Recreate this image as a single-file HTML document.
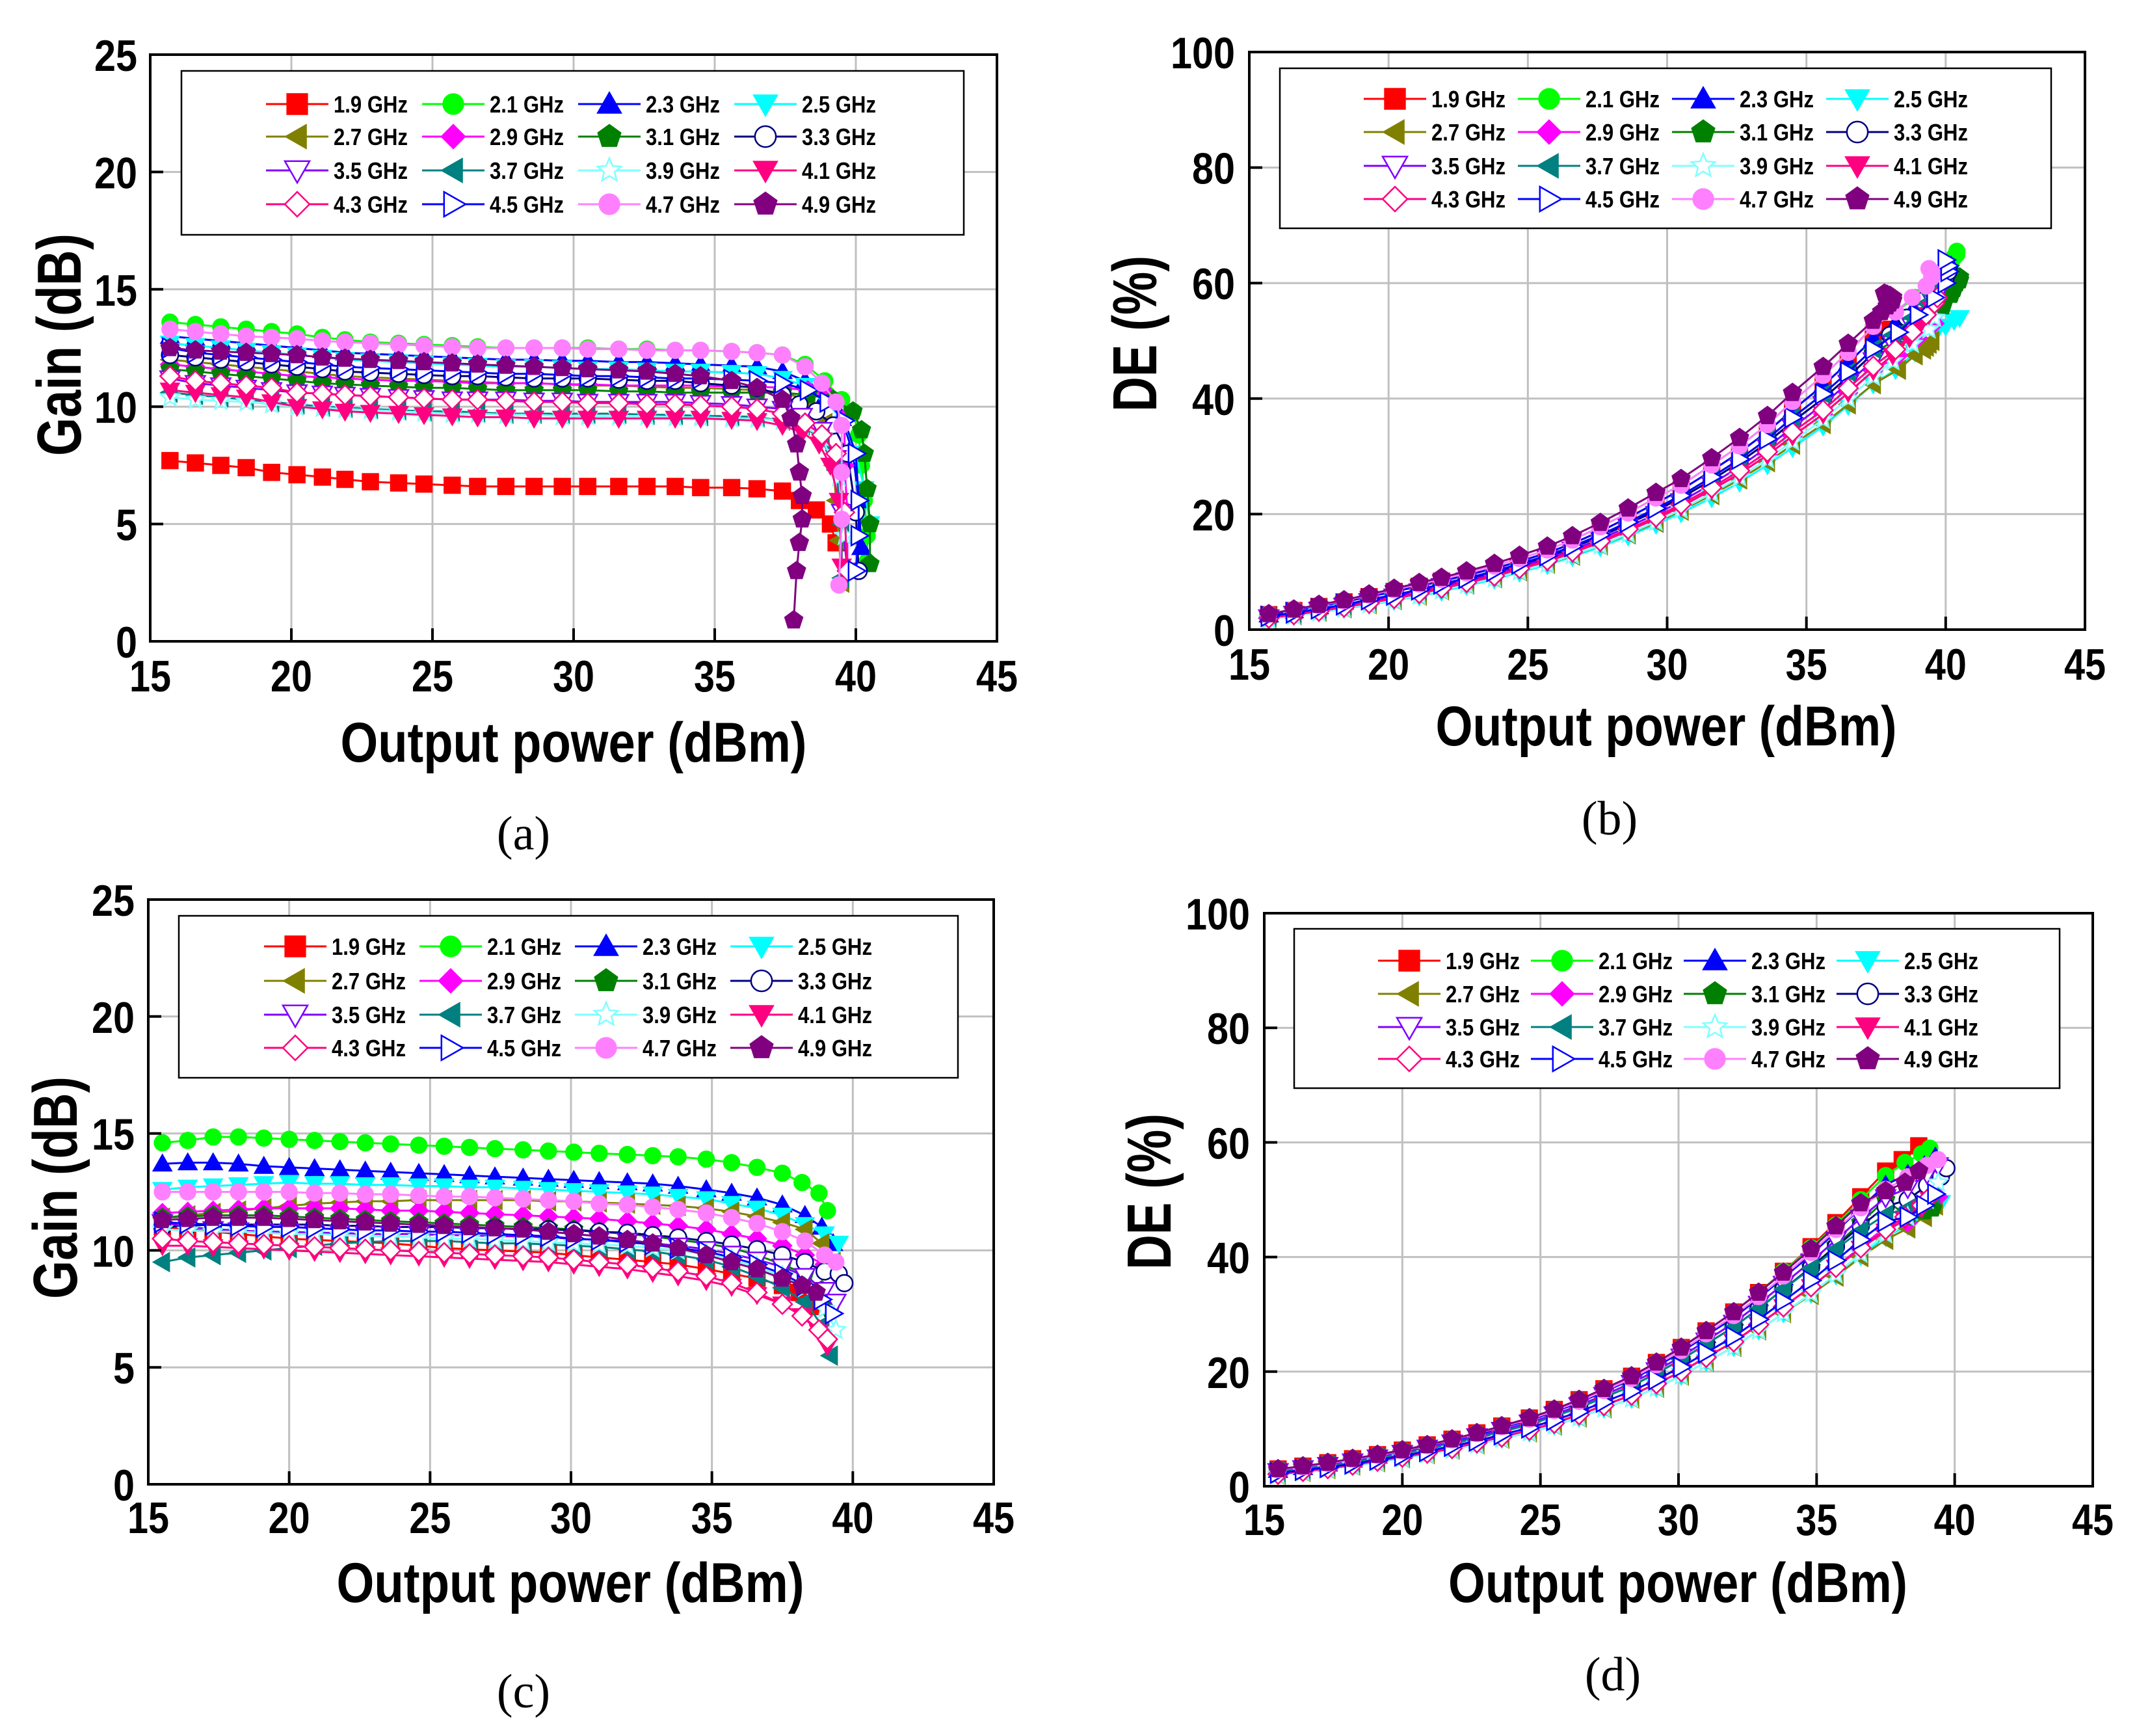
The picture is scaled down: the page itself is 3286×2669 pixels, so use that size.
<!DOCTYPE html>
<html><head><meta charset="utf-8"><title>PA Gain and DE vs Output Power</title>
<style>html,body{margin:0;padding:0;background:#fff}svg{display:block}</style></head>
<body>
<svg id="fig" xmlns="http://www.w3.org/2000/svg" width="3286" height="2669" viewBox="0 0 3286 2669">
<rect x="0" y="0" width="3286" height="2669" fill="#fff"/>
</svg>
<script>
// ===== data =====
const seriesNames = ['1.9 GHz','2.1 GHz','2.3 GHz','2.5 GHz','2.7 GHz','2.9 GHz','3.1 GHz','3.3 GHz','3.5 GHz','3.7 GHz','3.9 GHz','4.1 GHz','4.3 GHz','4.5 GHz','4.7 GHz','4.9 GHz'];
const xTicks = [15,20,25,30,35,40,45];
const gainTicks = [0,5,10,15,20,25];
const deTicks = [0,20,40,60,80,100];

// panel (a) gain
const xBaseA = [15.7,16.6,17.5,18.4,19.3,20.2,21.1,21.9,22.8,23.8,24.7,25.7,26.6,27.6,28.6,29.6,30.5,31.6,32.6,33.6,34.5,35.6,36.5,37.4];
const gainA = [
[7.7,7.6,7.5,7.4,7.2,7.1,7.0,6.9,6.8,6.75,6.7,6.65,6.6,6.6,6.6,6.6,6.6,6.6,6.6,6.6,6.55,6.55,6.5,6.4],
[13.6,13.5,13.4,13.3,13.2,13.1,12.95,12.85,12.75,12.7,12.65,12.6,12.55,12.5,12.5,12.5,12.5,12.45,12.45,12.4,12.4,12.35,12.3,12.2],
[13.0,12.9,12.8,12.7,12.6,12.5,12.4,12.3,12.25,12.2,12.15,12.1,12.05,12.0,12.0,11.95,11.95,11.9,11.9,11.85,11.8,11.75,11.7,11.5],
[12.7,12.6,12.5,12.4,12.3,12.2,12.1,12.0,11.95,11.9,11.85,11.8,11.75,11.7,11.7,11.65,11.6,11.6,11.55,11.5,11.5,11.45,11.4,11.2],
[12.0,11.9,11.8,11.7,11.6,11.5,11.4,11.3,11.25,11.2,11.15,11.1,11.05,11.0,11.0,10.95,10.9,10.9,10.85,10.8,10.8,10.75,10.7,10.6],
[11.8,11.7,11.6,11.5,11.4,11.3,11.25,11.2,11.15,11.1,11.1,11.05,11.0,11.0,11.0,10.95,10.95,10.9,10.9,10.9,10.9,10.85,10.85,10.8],
[11.6,11.5,11.4,11.3,11.2,11.1,11.0,10.95,10.9,10.85,10.8,10.8,10.75,10.7,10.7,10.7,10.7,10.65,10.65,10.6,10.6,10.6,10.6,10.6],
[12.2,12.1,12.0,11.9,11.8,11.7,11.6,11.5,11.45,11.4,11.35,11.3,11.3,11.25,11.2,11.2,11.2,11.15,11.1,11.1,11.0,10.9,10.8,10.5],
[11.2,11.0,10.9,10.8,10.7,10.6,10.55,10.5,10.45,10.4,10.35,10.3,10.3,10.3,10.25,10.25,10.2,10.2,10.2,10.2,10.15,10.1,10.0,9.9],
[10.6,10.5,10.4,10.3,10.2,10.1,10.0,9.95,9.9,9.85,9.8,9.8,9.75,9.7,9.7,9.7,9.7,9.7,9.65,9.65,9.6,9.6,9.55,9.4],
[10.4,10.3,10.25,10.2,10.1,10.0,9.95,9.9,9.85,9.8,9.75,9.7,9.7,9.65,9.65,9.6,9.6,9.6,9.6,9.55,9.55,9.5,9.5,9.4],
[10.7,10.6,10.5,10.4,10.2,10.0,9.9,9.8,9.75,9.7,9.65,9.6,9.55,9.55,9.5,9.5,9.5,9.5,9.5,9.5,9.5,9.45,9.4,9.2],
[11.3,11.1,11.0,10.9,10.8,10.6,10.55,10.5,10.45,10.4,10.35,10.3,10.3,10.25,10.2,10.2,10.15,10.15,10.1,10.1,10.05,10.0,9.9,9.7],
[12.5,12.3,12.2,12.1,12.0,11.9,11.8,11.7,11.65,11.6,11.55,11.5,11.45,11.4,11.4,11.35,11.3,11.3,11.25,11.2,11.2,11.15,11.1,11.0],
[13.3,13.2,13.1,13.0,12.95,12.9,12.8,12.75,12.7,12.65,12.6,12.55,12.5,12.5,12.5,12.5,12.45,12.45,12.4,12.4,12.4,12.35,12.3,12.2],
[12.5,12.4,12.35,12.3,12.25,12.2,12.1,12.05,12.0,11.95,11.9,11.85,11.8,11.75,11.7,11.65,11.6,11.55,11.5,11.4,11.3,11.1,10.8,10.3]];
const tailXA = [
[38.0,38.6,39.1,39.3],
[38.2,38.9,39.5,39.9,40.1,40.2,40.3,40.4,40.4],
[38.2,38.9,39.5,39.9,40.1,40.2],
[38.2,38.9,39.6,40.0,40.3,40.5],
[38.3,38.9,39.2,39.3,39.4,39.5],
[38.3,39.0,39.6,39.6,39.7,39.7],
[38.3,39.2,39.9,40.2,40.3,40.4,40.5,40.5],
[38.0,38.6,39.2,39.7,40.0,40.1],
[38.1,38.8,39.3,39.5,39.7],
[38.1,38.8,39.3,39.5,39.5],
[38.1,38.8,39.4,39.6],
[38.1,38.7,39.1,39.4,39.5],
[38.2,38.8,39.3,39.6,39.7],
[38.3,39.0,39.6,40.0,40.1,40.1,40.0],
[38.2,38.8,39.3,39.5,39.5,39.5,39.4],
[37.7,37.9,38.0,38.1,38.1,38.0,37.9,37.8]];
const tailGainA = [
[6.0,5.6,5.0,4.2],
[11.8,11.1,10.3,9.8,8.8,7.5,6.0,4.5,3.4],
[11.1,10.4,9.5,8.0,6.0,4.0],
[10.9,10.3,9.3,8.0,6.5,5.0],
[10.3,9.3,7.5,6.0,4.3,2.5],
[10.7,10.5,9.5,7.5,5.5,3.0],
[10.5,10.3,9.8,9.0,8.0,6.5,5.0,3.3],
[10.1,9.8,9.2,8.0,5.5,3.0],
[9.6,9.0,7.8,5.5,3.0],
[9.2,8.6,7.3,5.0,2.7],
[9.2,8.7,7.0,4.5],
[8.9,8.4,7.5,6.0,3.2],
[9.3,8.8,8.0,5.5,3.0],
[10.7,10.2,9.4,8.0,6.0,4.5,3.0],
[11.7,11.0,10.2,9.2,7.2,5.2,2.4],
[9.5,8.4,7.2,6.2,5.2,4.2,3.0,0.9]];

// panel (b) drain efficiency (same Pout points as panel a)
const deB = [
[2.6,3.3,4.0,4.8,5.7,6.6,7.5,8.4,9.4,10.6,11.8,13.3,14.9,17.0,19.4,21.9,24.2,27.5,30.7,34.3,38.0,42.3,46.2,50.3],
[2.7,3.5,4.2,5.0,6.0,6.9,7.9,8.7,9.8,11.0,12.3,13.8,15.5,17.8,20.2,22.8,25.0,28.5,31.8,35.5,39.5,44.0,48.0,52.5],
[2.6,3.3,4.0,4.8,5.7,6.6,7.5,8.4,9.4,10.6,11.8,13.3,14.9,17.0,19.4,21.9,24.2,27.5,30.7,34.3,38.0,42.3,46.2,50.3],
[1.8,2.4,3.0,3.6,4.3,5.0,5.8,6.6,7.6,8.7,9.9,11.2,12.6,14.3,16.2,18.2,20.2,22.8,25.5,28.5,31.5,35.2,38.8,42.5],
[1.9,2.5,3.1,3.7,4.4,5.1,5.9,6.8,7.8,8.9,10.1,11.4,12.8,14.6,16.5,18.5,20.6,23.3,26.0,29.0,32.0,35.6,39.0,42.5],
[2.0,2.6,3.2,3.9,4.6,5.4,6.2,7.1,8.1,9.2,10.5,11.8,13.3,15.1,17.1,19.2,21.3,24.2,27.0,30.2,33.5,37.3,41.0,44.8],
[2.2,2.8,3.5,4.2,5.0,5.9,6.8,7.7,8.7,9.9,11.2,12.6,14.2,16.1,18.3,20.6,22.8,25.9,29.0,32.4,36.0,40.0,43.8,47.8],
[2.2,2.8,3.5,4.2,5.0,5.9,6.8,7.7,8.7,9.9,11.2,12.6,14.2,16.1,18.3,20.6,22.8,25.9,29.0,32.4,36.0,40.0,43.8,47.8],
[2.1,2.7,3.4,4.1,4.9,5.7,6.6,7.5,8.5,9.6,10.9,12.3,13.8,15.7,17.8,20.0,22.2,25.2,28.2,31.6,35.0,39.0,42.7,46.6],
[2.3,2.9,3.6,4.3,5.2,6.0,6.9,7.9,8.9,10.1,11.4,12.8,14.4,16.4,18.6,21.0,23.2,26.4,29.5,33.0,36.7,40.8,44.6,48.6],
[1.8,2.4,3.0,3.7,4.4,5.1,5.9,6.8,7.8,8.9,10.1,11.4,12.9,14.6,16.6,18.7,20.8,23.6,26.4,29.5,32.6,36.4,40.0,43.8],
[2.0,2.6,3.2,3.9,4.6,5.4,6.2,7.1,8.1,9.2,10.5,11.8,13.3,15.1,17.1,19.2,21.3,24.2,27.0,30.2,33.5,37.3,41.0,44.8],
[2.0,2.6,3.2,3.9,4.6,5.4,6.3,7.2,8.2,9.3,10.6,12.0,13.5,15.3,17.4,19.5,21.7,24.6,27.5,30.8,34.2,38.0,41.8,45.6],
[2.3,2.9,3.6,4.3,5.2,6.0,6.9,7.9,8.9,10.1,11.4,12.8,14.4,16.4,18.6,21.0,23.2,26.4,29.5,33.0,36.7,40.8,44.6,48.6],
[2.7,3.5,4.2,5.0,6.0,6.9,7.9,8.7,9.8,11.0,12.3,13.8,15.5,17.8,20.2,22.8,25.0,28.5,31.8,35.5,39.5,44.0,48.0,52.5],
[2.7,3.5,4.3,5.1,6.1,7.1,8.1,9.0,10.1,11.4,12.8,14.4,16.2,18.5,21.0,23.7,26.1,29.7,33.2,37.0,41.0,45.5,49.5,53.5]];
const tailDeB = [
[52,53,54,55],
[55,57.5,60,61.5,62.5,63.5,64.5,65,65.5],
[53,56,59,61,62,63],
[45,48,51,52.5,53.5,54],
[45,47.5,48.5,49,49.5,50],
[47.5,50.5,53,54.5,55.5,56],
[50.5,53.5,56,58,59,60,60.5,61],
[51,54,57,60,61,62],
[49.5,52.5,55,57,58],
[51,54,56.5,58,59],
[46.5,49.5,52,54],
[47.5,50.5,53,54.5,55.5],
[48.5,51.5,54.5,56.5,57.5],
[51.5,54.5,57.5,60,62,63,64],
[55,57.5,59.5,61,61.5,62,62.5],
[55,56,56.5,57,57.5,57.8,58,58.2]];

// panel (c) gain
const xBaseC = [15.5,16.4,17.3,18.2,19.1,20.0,20.9,21.8,22.7,23.6,24.6,25.5,26.4,27.3,28.3,29.2,30.1,31.0,32.0,32.9,33.8,34.8,35.7,36.6,37.5];
const gainC = [
[11.0,10.9,10.8,10.7,10.6,10.5,10.45,10.4,10.35,10.3,10.2,10.1,10.05,10.0,9.95,9.9,9.8,9.7,9.6,9.5,9.4,9.2,9.0,8.8,8.5],
[14.6,14.7,14.85,14.85,14.8,14.75,14.7,14.65,14.6,14.55,14.5,14.45,14.4,14.35,14.3,14.25,14.2,14.15,14.1,14.05,14.0,13.9,13.75,13.55,13.3],
[13.7,13.75,13.75,13.7,13.6,13.55,13.5,13.45,13.4,13.35,13.3,13.25,13.2,13.15,13.1,13.05,13.0,12.95,12.9,12.85,12.75,12.6,12.45,12.25,11.95],
[12.6,12.7,12.75,12.8,12.85,12.9,12.85,12.85,12.8,12.8,12.75,12.75,12.7,12.7,12.65,12.6,12.55,12.5,12.45,12.4,12.3,12.2,12.0,11.8,11.5],
[11.4,11.5,11.6,11.7,11.8,11.9,12.0,12.05,12.1,12.1,12.15,12.15,12.15,12.15,12.15,12.1,12.1,12.05,12.0,11.95,11.9,11.8,11.65,11.45,11.2],
[11.6,11.65,11.7,11.75,11.8,11.8,11.8,11.8,11.75,11.7,11.7,11.65,11.6,11.55,11.5,11.45,11.4,11.35,11.25,11.15,11.05,10.9,10.7,10.5,10.2],
[11.4,11.45,11.5,11.5,11.5,11.45,11.4,11.35,11.3,11.25,11.2,11.15,11.1,11.05,11.0,10.95,10.9,10.8,10.7,10.6,10.45,10.3,10.1,9.8,9.4],
[11.0,11.05,11.1,11.1,11.1,11.1,11.1,11.05,11.05,11.0,11.0,11.0,10.95,10.95,10.9,10.9,10.85,10.8,10.75,10.65,10.55,10.4,10.25,10.05,9.8],
[11.2,11.0,10.9,10.85,10.8,10.8,10.75,10.75,10.7,10.7,10.7,10.65,10.65,10.6,10.6,10.55,10.5,10.45,10.4,10.3,10.2,10.05,9.85,9.6,9.3],
[9.5,9.7,9.8,9.9,10.0,10.1,10.2,10.3,10.35,10.4,10.4,10.4,10.35,10.3,10.3,10.25,10.2,10.15,10.05,9.95,9.8,9.6,9.3,8.9,8.4],
[10.9,10.85,10.8,10.8,10.75,10.7,10.7,10.65,10.6,10.6,10.55,10.5,10.5,10.45,10.4,10.35,10.3,10.25,10.2,10.1,10.0,9.85,9.6,9.3,8.9],
[10.2,10.2,10.15,10.1,10.05,10.0,9.95,9.9,9.85,9.8,9.75,9.7,9.65,9.6,9.55,9.5,9.4,9.3,9.2,9.05,8.9,8.7,8.45,8.1,7.7],
[10.5,10.4,10.35,10.3,10.25,10.2,10.15,10.1,10.05,10.0,9.95,9.9,9.85,9.8,9.75,9.7,9.6,9.5,9.4,9.25,9.1,8.9,8.6,8.2,7.7],
[11.2,11.15,11.1,11.05,11.0,11.0,10.95,10.9,10.85,10.85,10.8,10.8,10.75,10.7,10.65,10.6,10.5,10.45,10.35,10.25,10.1,9.95,9.7,9.4,9.0],
[12.5,12.5,12.5,12.5,12.5,12.5,12.45,12.45,12.4,12.4,12.35,12.3,12.3,12.25,12.2,12.15,12.1,12.0,11.95,11.85,11.75,11.6,11.4,11.15,10.8],
[11.3,11.35,11.4,11.4,11.4,11.35,11.3,11.25,11.2,11.15,11.1,11.05,11.0,10.95,10.9,10.8,10.7,10.6,10.45,10.3,10.1,9.8,9.5,9.2,8.8]];
const tailXC = [
[38.1,38.7],[38.2,38.8,39.1],[38.3,38.9,39.3],[38.3,39.0,39.5],[38.3,38.9,39.3],[38.3,39.0,39.4],
[38.3,38.9,39.2],[38.3,39.0,39.5,39.7],[38.3,39.0,39.4],[38.3,38.9,39.2],[38.3,39.0,39.4],[38.2,38.8,39.1],
[38.2,38.8,39.1],[38.3,38.9,39.3],[38.3,39.0,39.4],[38.2,38.7]];
const tailGainC = [
[8.2,7.6],[12.9,12.45,11.7],[11.5,11.0,10.3],[11.1,10.7,10.3],[10.9,10.3,9.5],[9.8,9.4,9.0],
[9.0,8.3,7.5],[9.5,9.1,9.0,8.6],[8.9,8.3,7.8],[7.8,6.8,5.5],[8.4,7.5,6.6],[7.2,6.5,5.9],
[7.2,6.6,6.2],[8.5,7.9,7.3],[10.4,9.8,9.5],[8.5,8.2]];

// panel (d) drain efficiency (same Pout points as panel c)
const deD = [
[3.0,3.5,4.1,4.8,5.5,6.3,7.2,8.2,9.3,10.5,11.9,13.4,15.1,17.0,19.2,21.6,24.2,27.1,30.4,33.8,37.5,41.8,46.0,50.5,55.0],
[3.0,3.5,4.1,4.8,5.5,6.3,7.2,8.2,9.3,10.5,11.9,13.4,15.1,17.0,19.2,21.6,24.2,27.1,30.4,33.8,37.5,41.6,45.6,50.0,54.2],
[2.8,3.3,3.9,4.6,5.3,6.1,7.0,8.0,9.0,10.2,11.5,13.0,14.6,16.5,18.6,20.9,23.4,26.3,29.4,32.8,36.4,40.4,44.4,48.6,52.6],
[2.0,2.5,3.0,3.6,4.2,4.9,5.6,6.4,7.3,8.3,9.4,10.6,12.0,13.6,15.3,17.2,19.3,21.7,24.3,27.2,30.2,33.6,36.8,40.2,43.5],
[2.0,2.5,3.0,3.6,4.2,4.9,5.6,6.4,7.3,8.3,9.4,10.6,12.0,13.6,15.3,17.2,19.3,21.7,24.3,27.2,30.2,33.4,36.6,40.0,43.0],
[2.1,2.6,3.1,3.7,4.4,5.1,5.8,6.6,7.6,8.6,9.8,11.0,12.5,14.1,15.9,17.9,20.0,22.5,25.2,28.2,31.3,34.8,38.2,41.8,45.2],
[2.5,3.0,3.6,4.2,4.9,5.7,6.5,7.4,8.4,9.5,10.8,12.2,13.7,15.5,17.5,19.7,22.1,24.8,27.8,31.0,34.4,38.2,42.0,46.0,50.0],
[2.5,3.0,3.6,4.2,4.9,5.7,6.5,7.4,8.4,9.5,10.8,12.2,13.7,15.5,17.5,19.7,22.1,24.8,27.8,31.0,34.4,38.2,41.8,45.4,48.8],
[2.6,3.1,3.7,4.3,5.0,5.8,6.7,7.6,8.7,9.8,11.1,12.5,14.1,15.9,18.0,20.2,22.6,25.4,28.5,31.8,35.3,39.2,43.0,46.8,50.4],
[2.5,3.0,3.6,4.2,4.9,5.7,6.5,7.4,8.4,9.5,10.8,12.2,13.7,15.5,17.5,19.7,22.1,24.8,27.8,31.0,34.4,38.0,41.4,44.6,47.4],
[2.0,2.5,3.0,3.6,4.2,4.9,5.6,6.4,7.3,8.3,9.4,10.6,12.0,13.6,15.3,17.2,19.3,21.7,24.3,27.2,30.2,33.6,37.0,40.6,44.0],
[2.1,2.6,3.1,3.7,4.4,5.1,5.8,6.6,7.6,8.6,9.8,11.0,12.5,14.1,15.9,17.9,20.0,22.5,25.2,28.2,31.3,34.8,38.2,41.5,44.5],
[2.1,2.6,3.1,3.7,4.4,5.1,5.8,6.6,7.6,8.6,9.8,11.0,12.5,14.1,15.9,17.9,20.0,22.5,25.2,28.2,31.3,34.8,38.2,41.6,44.8],
[2.3,2.8,3.3,3.9,4.6,5.3,6.1,7.0,7.9,9.0,10.2,11.5,13.0,14.7,16.6,18.6,20.8,23.3,26.1,29.1,32.3,35.9,39.4,43.0,46.2],
[2.9,3.4,4.0,4.7,5.4,6.2,7.1,8.1,9.2,10.4,11.7,13.2,14.8,16.7,18.8,21.2,23.7,26.6,29.8,33.1,36.7,40.8,44.8,48.6,51.8],
[3.0,3.5,4.1,4.8,5.5,6.3,7.2,8.2,9.3,10.5,11.9,13.4,15.1,17.0,19.2,21.6,24.2,27.1,30.4,33.8,37.3,41.4,45.4,49.4,51.5]];
const tailDeD = [
[57.0,59.4],[56.5,58,59],[54.5,56,57.5],[45.5,47.5,49.5],[45,47,49],[46,48.5,50.5],
[47,48,48.5],[50,52.5,54,55.5],[52,54.5,56],[48.5,50,51],[47,50,53],[46.5,48.5,50],
[47,49,50.5],[47,49,51],[54,56,57],[53,55]];

// ===== styles (not data) =====
const colors = ['#ff0000','#00ff00','#0000ff','#00ffff','#808000','#ff00ff','#008000','#000080','#8000ff','#008080','#80ffff','#ff0080','#ff0080','#0000ff','#ff80ff','#800080'];
const shapes = ['square','circle','up','down','left','diamond','pent','circle','down','left','star','down','diamond','right','circle','pent'];
const openMk = [false,false,false,false,false,false,false,true,true,false,true,false,true,true,false,false];

const NS = 'http://www.w3.org/2000/svg';
const svg = document.getElementById('fig');
function mk(tag, attrs, parent){ const e=document.createElementNS(NS,tag); for(const k in attrs) e.setAttribute(k,attrs[k]); (parent||svg).appendChild(e); return e; }
function txt(str, x, y, size, len, parent, opts){
  opts = opts||{};
  const t = mk('text', {x:x, y:y, 'font-size':size, 'font-family':opts.serif?'"Liberation Serif", serif':'"Liberation Sans", sans-serif', 'font-weight':opts.serif?'normal':'bold', 'text-anchor':opts.anchor||'middle', fill:'#000'}, parent);
  if(len){ t.setAttribute('textLength', len); t.setAttribute('lengthAdjust','spacingAndGlyphs'); }
  if(opts.rot) t.setAttribute('transform', 'rotate(-90 '+x+' '+y+')');
  t.textContent = str; return t;
}
function shapePath(s, cx, cy, r){
  const P = pts => 'M'+pts.map(p=>p[0].toFixed(1)+','+p[1].toFixed(1)).join('L')+'Z';
  if(s==='square') return P([[cx-r*0.85,cy-r*0.85],[cx+r*0.85,cy-r*0.85],[cx+r*0.85,cy+r*0.85],[cx-r*0.85,cy+r*0.85]]);
  if(s==='up') return P([[cx,cy-r],[cx+r,cy+r*0.75],[cx-r,cy+r*0.75]]);
  if(s==='down') return P([[cx,cy+r],[cx+r,cy-r*0.75],[cx-r,cy-r*0.75]]);
  if(s==='left') return P([[cx-r,cy],[cx+r*0.75,cy-r],[cx+r*0.75,cy+r]]);
  if(s==='right') return P([[cx+r,cy],[cx-r*0.75,cy-r],[cx-r*0.75,cy+r]]);
  if(s==='diamond') return P([[cx,cy-r],[cx+r,cy],[cx,cy+r],[cx-r,cy]]);
  if(s==='pent'){ const a=[]; for(let i=0;i<5;i++){const t=-Math.PI/2+i*2*Math.PI/5; a.push([cx+r*Math.cos(t),cy+r*Math.sin(t)]);} return P(a); }
  if(s==='star'){ const a=[]; for(let i=0;i<10;i++){const t=-Math.PI/2+i*Math.PI/5; const rr=i%2?r*0.45:r; a.push([cx+rr*Math.cos(t),cy+rr*Math.sin(t)]);} return P(a); }
  return null;
}
function marker(i, cx, cy, r, parent){
  const fill = openMk[i] ? '#fff' : colors[i];
  const sw = openMk[i] ? 2.5 : 1;
  let e;
  if(shapes[i]==='circle') e = mk('circle',{cx:cx,cy:cy,r:r*0.85,fill:fill,stroke:colors[i],'stroke-width':sw},parent);
  else e = mk('path',{d:shapePath(shapes[i],cx,cy,r),fill:fill,stroke:colors[i],'stroke-width':sw},parent);
  return e;
}

function drawPanel(cfg){
  const g = mk('g',{});
  
  
  const sx = v => cfg.L + (v-15)/30*(cfg.R-cfg.L);
  const sy = v => cfg.B - v/cfg.ymax*(cfg.B-cfg.T);
  const grid = mk('g',{},g);
  
  
  xTicks.forEach(v=>{ if(v>15&&v<45) mk('line',{x1:sx(v),x2:sx(v),y1:cfg.T,y2:cfg.B,stroke:'#c0c0c0','stroke-width':3},grid); });
  cfg.yticks.forEach(v=>{ if(v>0&&v<cfg.ymax) mk('line',{x1:cfg.L,x2:cfg.R,y1:sy(v),y2:sy(v),stroke:'#c0c0c0','stroke-width':3},grid); });
  for(let i=0;i<16;i++){
    const xs = cfg.xBase.concat(cfg.tailX[i]);
    const ys = cfg.yBase[i].concat(cfg.tailY[i]);
    const sg = mk('g',{},g);
    
    
    const d = xs.map((x,k)=>(k?'L':'M')+sx(x).toFixed(1)+','+sy(ys[k]).toFixed(1)).join('');
    mk('path',{d:d,fill:'none',stroke:colors[i],'stroke-width':3},sg);
    xs.forEach((x,k)=>{ marker(i, sx(x), sy(ys[k]), 15, sg); });
  }
  const fr = mk('rect',{x:cfg.L,y:cfg.T,width:cfg.R-cfg.L,height:cfg.B-cfg.T,fill:'none',stroke:'#000','stroke-width':4},g);
  
  
  xTicks.forEach(v=>{ mk('line',{x1:sx(v),x2:sx(v),y1:cfg.B,y2:cfg.B-20,stroke:'#000','stroke-width':4},g); });
  cfg.yticks.forEach(v=>{ mk('line',{x1:cfg.L,x2:cfg.L+20,y1:sy(v),y2:sy(v),stroke:'#000','stroke-width':4},g); });
  xTicks.forEach(v=>{ const t=txt(String(v), sx(v), cfg.xLabY, 68, 64, g);
    
     });
  cfg.yticks.forEach(v=>{ const s=String(v); const t=txt(s, cfg.yLabR, sy(v)+25, 68, 33*s.length, g, {anchor:'end'});
    
     });
  const xt = txt('Output power (dBm)', cfg.xt[0], cfg.xt[1], 86, cfg.xt[2], g);
  
  
  const yt = txt(cfg.ytitle, cfg.yt[0], cfg.yt[1], 96, cfg.yt[2], g, {rot:true});
  
  
  const lg = mk('g',{},g);
  
  
  mk('rect',{x:cfg.lg[0],y:cfg.lg[1],width:cfg.lg[2],height:cfg.lg[3],fill:'#fff',stroke:'#000','stroke-width':2.5},lg);
  for(let i=0;i<16;i++){
    const row = Math.floor(i/4), col = i%4;
    const x0 = cfg.lgCol0 + col*cfg.lgDx, y0 = cfg.lgRows[row];
    const e = mk('g',{},lg);
    
    
    mk('line',{x1:x0,x2:x0+96,y1:y0,y2:y0,stroke:colors[i],'stroke-width':3},e);
    marker(i, x0+48, y0, 19, e);
    txt(seriesNames[i], x0+104, y0+13, 36, 114, e, {anchor:'start'});
  }
  const pl = txt('('+cfg.id+')', cfg.pl[0], cfg.pl[1], 74, null, g, {serif:true});
  
  
}

drawPanel({id:'a',name:'gain-chart-a',L:231,R:1533,T:84,B:986,ymax:25,yticks:gainTicks,xBase:xBaseA,yBase:gainA,tailX:tailXA,tailY:tailGainA,
  xLabY:1063,yLabR:211,xt:[882,1171,717],ytitle:'Gain (dB)',yt:[124,530,342],
  lg:[279,109,1203,252],lgCol0:409,lgDx:240,lgRows:[160,210,262,314],pl:[805,1306]});
drawPanel({id:'b',name:'de-chart-b',L:1921,R:3206,T:80,B:968,ymax:100,yticks:deTicks,xBase:xBaseA,yBase:deB,tailX:tailXA,tailY:tailDeB,
  xLabY:1045,yLabR:1899,xt:[2562,1146,709],ytitle:'DE (%)',yt:[1778,513,240],
  lg:[1968,105,1186,246],lgCol0:2097,lgDx:237,lgRows:[152,203,255,306],pl:[2475,1283]});
drawPanel({id:'c',name:'gain-chart-c',L:228,R:1528,T:1383,B:2282,ymax:25,yticks:gainTicks,xBase:xBaseC,yBase:gainC,tailX:tailXC,tailY:tailGainC,
  xLabY:2357,yLabR:207,xt:[877,2463,719],ytitle:'Gain (dB)',yt:[118,1826,342],
  lg:[275,1408,1198,249],lgCol0:406,lgDx:239,lgRows:[1455,1508,1560,1611],pl:[805,2625]});
drawPanel({id:'d',name:'de-chart-d',L:1944,R:3218,T:1404,B:2285,ymax:100,yticks:deTicks,xBase:xBaseC,yBase:deD,tailX:tailXC,tailY:tailDeD,
  xLabY:2360,yLabR:1922,xt:[2580,2463,706],ytitle:'DE (%)',yt:[1800,1832,240],
  lg:[1990,1428,1177,245],lgCol0:2119,lgDx:235,lgRows:[1477,1528,1579,1628],pl:[2480,2599]});
</script>
</body></html>
